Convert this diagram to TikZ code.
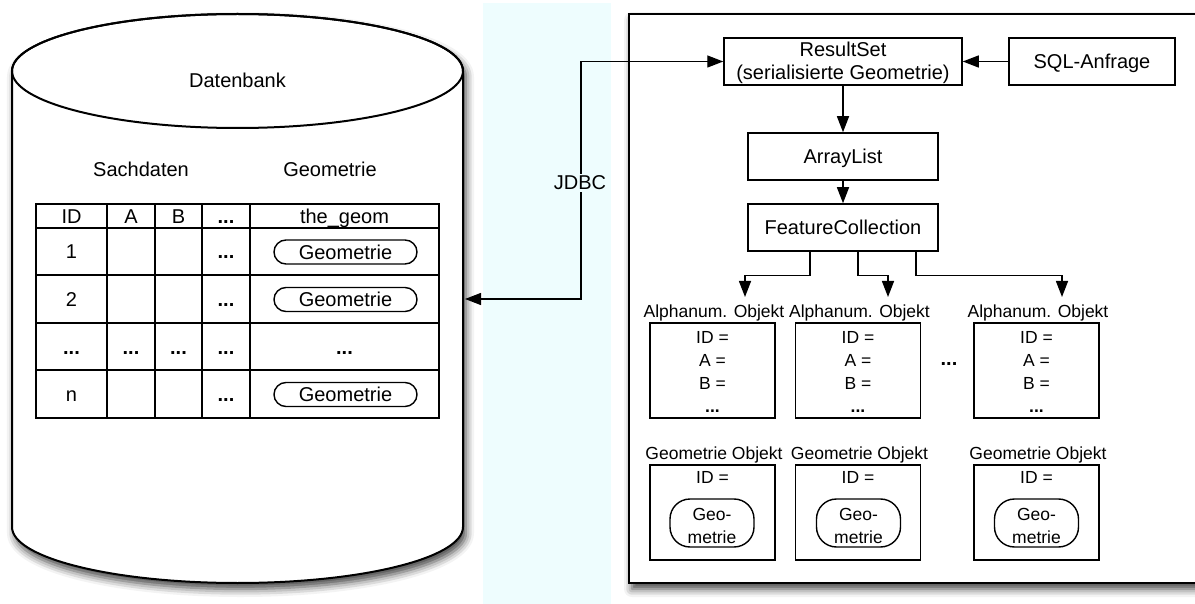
\documentclass[tikz,border=0pt]{standalone}
\usepackage{fontspec}
\setmainfont{Liberation Sans}
\usetikzlibrary{arrows.meta,shadows.blur,calc}
\definecolor{band}{RGB}{238,253,254}
\begin{document}
\begin{tikzpicture}[x=1pt,y=-1pt,
  every node/.style={font=\fontsize{20}{23}\selectfont, inner sep=0pt},
  arr/.style={-{Triangle[length=16pt,width=12pt,fill=black]}, line width=1.4pt},
  arrboth/.style={{Triangle[length=16pt,width=12pt,fill=black]}-{Triangle[length=16pt,width=12pt,fill=black]}, line width=1.4pt},
  box/.style={draw, line width=1.5pt, fill=white, minimum height=47pt, align=center,
    text height=14.3pt, text depth=0pt},
  obj/.style={draw, line width=1.5pt, minimum width=125pt, minimum height=95pt, align=center,
    font=\fontsize{17.5}{23.3}\selectfont},
  objtext/.style={font=\fontsize{17.5}{23.3}\selectfont, anchor=base},
  objlabel/.style={font=\fontsize{17.5}{21}\selectfont, anchor=base},
  pill/.style={draw, line width=1.4pt, rounded corners=20pt, minimum width=84pt, minimum height=48pt,
    align=center, font=\fontsize{17.5}{23}\selectfont, text height=40pt, text depth=0pt},
  geompill/.style={draw, line width=1.4pt, rounded corners=12pt, minimum width=143pt, minimum height=24pt,
    text height=14.3pt, text depth=0pt},
  cell/.style={anchor=base},
  outline/.style={draw, line width=2pt, fill=white},
  softshadow/.style={blur shadow={shadow xshift=3pt, shadow yshift=-6pt, shadow blur radius=8pt, shadow opacity=75}}
]
\useasboundingbox (0,0) rectangle (1195,604);
\clip (0,0) rectangle (1195,604);

% connection band
\fill[band] (483,3) rectangle (611,604);

% database cylinder
\path[outline, softshadow] (12,71) -- (12,527)
  arc[start angle=180, end angle=360, x radius=225.5pt, y radius=56pt]
  -- (463,71)
  arc[start angle=0, end angle=180, x radius=225.5pt, y radius=57pt] -- cycle;
\draw[line width=2pt] (237.5,71) ellipse [x radius=225.5pt, y radius=57pt];
\node[anchor=base] (db) at (237.5,88) {Datenbank};
\node[anchor=base] (sach) at (141,177) {Sachdaten};
\node[anchor=base] (geo) at (330,177) {Geometrie};

% table grid
\draw[line width=1.5pt] (36,204) rectangle (439,418);
\foreach \x in {107,155,202,250} \draw[line width=1.5pt] (\x,204) -- (\x,418);
\foreach \y in {228,275,323,370} \draw[line width=1.5pt] (36,\y) -- (439,\y);

% header row
\node[cell] (hid) at (71.5,224) {ID};
\node[cell] (ha) at (131,224) {A};
\node[cell] (hb) at (178.5,224) {B};
\node[cell] (hdots) at (226,224) {\textbf{...}};
\node[cell] (hgeom) at (344.5,224) {the\_geom};
% row 1
\node[cell] (r1id) at (71.5,259) {1};
\node[cell] (r1dots) at (226,259) {\textbf{...}};
\node[geompill] (r1g) at (345.5,252) {Geometrie};
% row 2
\node[cell] (r2id) at (71.5,306.5) {2};
\node[cell] (r2dots) at (226,306.5) {\textbf{...}};
\node[geompill] (r2g) at (345.5,299.5) {Geometrie};
% row of ellipses
\node[cell] (r3id) at (71.5,354) {\textbf{...}};
\node[cell] (r3a) at (131,354) {\textbf{...}};
\node[cell] (r3b) at (178.5,354) {\textbf{...}};
\node[cell] (r3dots) at (226,354) {\textbf{...}};
\node[cell] (r3g) at (344.5,354) {\textbf{...}};
% row n
\node[cell] (rnid) at (71.5,401.5) {n};
\node[cell] (rndots) at (226,401.5) {\textbf{...}};
\node[geompill] (rng) at (345.5,394.5) {Geometrie};

% application frame
\path[outline, softshadow] (629,14) rectangle (1215,583);

% processing chain
\node[box, minimum width=238pt, text height=37pt] (rs) at (843,61.5) {ResultSet\\(serialisierte Geometrie)};
\node[box, minimum width=166pt] (sql) at (1092,61.5) {SQL-Anfrage};
\node[box, minimum width=190pt] (al) at (843,156.5) {ArrayList};
\node[box, minimum width=190pt] (fc) at (843,227.5) {FeatureCollection};

\draw[arr] (sql.west) -- (rs.east);
\draw[arr] (rs.south) -- (al.north);
\draw[arr] (al.south) -- (fc.north);

% JDBC link
\coordinate (dbport) at (465,299);
\draw[arrboth] (dbport) -- ++(116,0) |- (rs.west);
\node[fill=band, inner sep=2pt, anchor=base] (jdbc) at (580,190) {JDBC};

% alphanumeric objects
\node[obj, text height=84.8pt, text depth=0pt] (a1) at (712.5,370.5) {ID =\\A =\\B =\\\textbf{...}};
\node[obj, text height=84.8pt, text depth=0pt] (a2) at (858,370.5) {ID =\\A =\\B =\\\textbf{...}};
\node[obj, text height=84.8pt, text depth=0pt] (a3) at (1036.5,370.5) {ID =\\A =\\B =\\\textbf{...}};
\node[objlabel] (la1) at ([xshift=1.5pt,yshift=5pt]a1.north) {Alphanum. Objekt};
\node[objlabel] (la2) at ([xshift=1.5pt,yshift=5pt]a2.north) {Alphanum. Objekt};
\node[objlabel] (la3) at ([xshift=1.5pt,yshift=5pt]a3.north) {Alphanum. Objekt};
\node[anchor=base] (more) at (949,366) {\textbf{...}};

% branches from the feature collection
\coordinate (t1) at (745,297);
\coordinate (t2) at (888,297);
\coordinate (t3) at (1062,297);
\draw[arr] ([xshift=-33pt]fc.south) -- ++(0,24) -| (t1);
\draw[arr] ([xshift=15pt]fc.south) -- ++(0,24) -| (t2);
\draw[arr] ([xshift=73pt]fc.south) -- ++(0,24) -| (t3);

% geometry objects
\node[obj] (g1) at (712.5,512.5) {};
\node[obj] (g2) at (858,512.5) {};
\node[obj] (g3) at (1036.5,512.5) {};
\node[objlabel] (lg1) at ([xshift=1.5pt,yshift=5pt]g1.north) {Geometrie Objekt};
\node[objlabel] (lg2) at ([xshift=1.5pt,yshift=5pt]g2.north) {Geometrie Objekt};
\node[objlabel] (lg3) at ([xshift=1.5pt,yshift=5pt]g3.north) {Geometrie Objekt};
\node[objtext] (gid1) at ([yshift=-19pt]g1.north) {ID =};
\node[objtext] (gid2) at ([yshift=-19pt]g2.north) {ID =};
\node[objtext] (gid3) at ([yshift=-19pt]g3.north) {ID =};
\node[pill] (gp1) at (712,523) {Geo-\\metrie};
\node[pill] (gp2) at (858.5,523) {Geo-\\metrie};
\node[pill] (gp3) at (1036.5,523) {Geo-\\metrie};
\end{tikzpicture}
\end{document}
